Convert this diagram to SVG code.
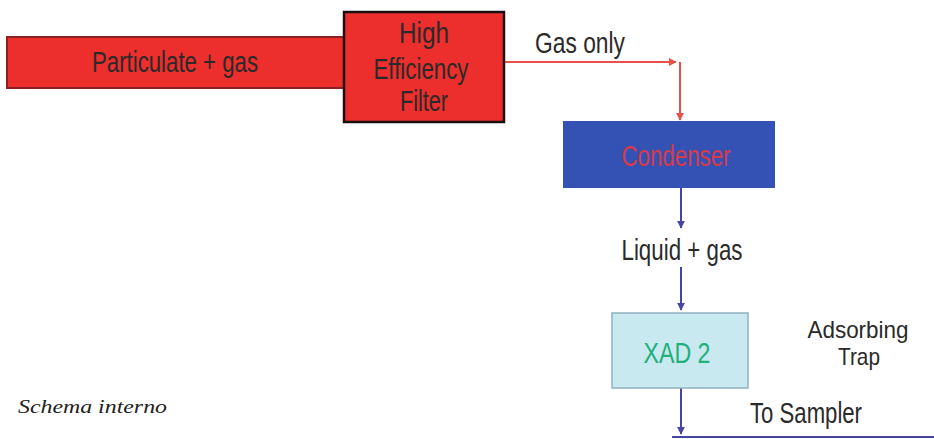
<svg xmlns="http://www.w3.org/2000/svg" width="934" height="439" viewBox="0 0 934 439">
<style>
.t{font-family:"Liberation Sans",Arial,sans-serif;font-size:29px;text-anchor:middle}
.s{font-size:24px}
.dk{fill:#2a2a2a}
.red{stroke:#e8504a;stroke-width:2;fill:none}
.blue{stroke:#4646a0;stroke-width:2;fill:none}
</style>
<defs>
<marker id="ar" viewBox="0 0 10 10" refX="9" refY="5" markerWidth="4" markerHeight="4" orient="auto" markerUnits="strokeWidth">
<path d="M0,0 L10,5 L0,10 z" fill="#e8504a"/>
</marker>
<marker id="ab" viewBox="0 0 10 10" refX="9" refY="5" markerWidth="4" markerHeight="4" orient="auto" markerUnits="strokeWidth">
<path d="M0,0 L10,5 L0,10 z" fill="#4646a0"/>
</marker>
</defs>
<rect width="934" height="439" fill="#ffffff"/>
<g id="connectors">
<path class="red" d="M504,62 H676" marker-end="url(#ar)"/>
<path class="red" d="M680,62 V120" marker-end="url(#ar)"/>
<path class="blue" d="M681,188 V228" marker-end="url(#ab)"/>
<path class="blue" d="M681,267 V310" marker-end="url(#ab)"/>
<path class="blue" d="M681,388 V434" marker-end="url(#ab)"/>
<path class="blue" d="M672,437 H934"/>
<text class="t dk" x="580" y="53" textLength="90" lengthAdjust="spacingAndGlyphs">Gas only</text>
<text class="t dk" x="682" y="260" textLength="121" lengthAdjust="spacingAndGlyphs">Liquid + gas</text>
<text class="t dk" x="806" y="423" textLength="112" lengthAdjust="spacingAndGlyphs">To Sampler</text>
</g>
<g id="particulate">
<rect x="7" y="37" width="338" height="51" fill="#ec2e2c" stroke="#8a2020" stroke-width="2"/>
<text class="t dk" x="175" y="72" textLength="166" lengthAdjust="spacingAndGlyphs">Particulate + gas</text>
</g>
<g id="filter">
<rect x="344" y="12" width="160" height="110" fill="#ec2e2c" stroke="#1a1010" stroke-width="2.5"/>
<text class="t dk" x="424" y="43" textLength="50" lengthAdjust="spacingAndGlyphs">High</text>
<text class="t dk" x="421" y="79" textLength="95" lengthAdjust="spacingAndGlyphs">Efficiency</text>
<text class="t dk" x="424" y="111" textLength="48" lengthAdjust="spacingAndGlyphs">Filter</text>
</g>
<g id="condenser">
<rect x="563" y="121" width="212" height="67" fill="#3452b4"/>
<text class="t" x="676" y="166" fill="#d83a4a" textLength="109" lengthAdjust="spacingAndGlyphs">Condenser</text>
</g>
<g id="xad">
<rect x="612" y="313" width="136" height="75" fill="#c8e9f0" stroke="#8fb0c0" stroke-width="1.5"/>
<text class="t" x="677" y="363" fill="#22b07a" textLength="67" lengthAdjust="spacingAndGlyphs">XAD 2</text>
</g>
<g id="trap-label">
<text class="t s dk" x="858" y="338" textLength="101" lengthAdjust="spacingAndGlyphs">Adsorbing</text>
<text class="t s dk" x="859" y="365" textLength="42" lengthAdjust="spacingAndGlyphs">Trap</text>
</g>
<text x="18" y="413" font-family="'Liberation Serif','Times New Roman',serif" font-style="italic" font-size="18" fill="#222" textLength="149" lengthAdjust="spacingAndGlyphs">Schema interno</text>
</svg>
